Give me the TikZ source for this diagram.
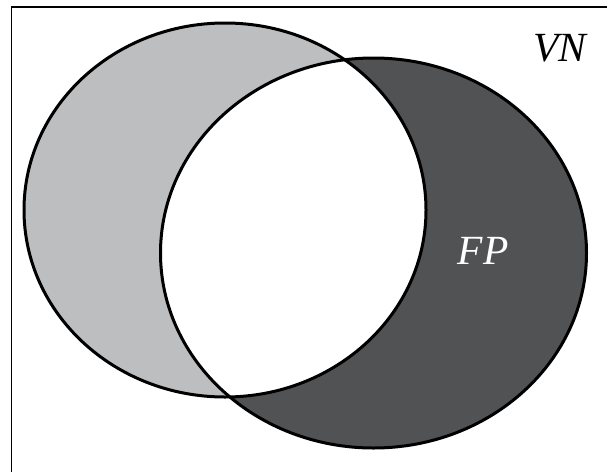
\documentclass[tikz,border=0pt]{standalone}
\usepackage{fontspec}
\setmainfont{Liberation Serif}
\usepackage{tikz}
\definecolor{lightset}{HTML}{BDBEC0}
\definecolor{darkset}{HTML}{505254}
\tikzset{
	% Fills for the two sets, their border and the set labels
	left set/.style={fill=lightset},
	right set/.style={fill=darkset},
	set border/.style={draw=black,line width=3pt},
	set label/.style={font=\fontsize{41.5}{44}\selectfont\itshape,inner sep=0pt}
}

\begin{document}
\begin{tikzpicture}[x=1pt,y=-1pt]
	\useasboundingbox (0,0) rectangle (607,472);
	% frame of the universe, cut by the page on the right and at the bottom
	\coordinate (frame-tr) at (607,7);
	\coordinate (frame-tl) at (11.5,7);
	\coordinate (frame-bl) at (11.5,472);
	\draw[line width=1.8pt] (frame-tr) -- (frame-tl) -- (frame-bl);
	% centres of the two sets
	\coordinate (A) at (225,210);
	\coordinate (B) at (373.5,253);
	\fill[left set] (A) ellipse [x radius=201, y radius=187];
	\fill[right set] (B) ellipse [x radius=213, y radius=195];
	% the overlap is left white
	\begin{scope}
		\clip (A) ellipse [x radius=201, y radius=187];
		\fill[white] (B) ellipse [x radius=213, y radius=195];
	\end{scope}
	\draw[set border] (A) ellipse [x radius=201, y radius=187];
	\draw[set border] (B) ellipse [x radius=213, y radius=195];
	
	\node[set label] (VN) at (560,48) {VN};
	\node[set label,text=white] (FP) at (483,250.5) {FP};
\end{tikzpicture}
\end{document}
